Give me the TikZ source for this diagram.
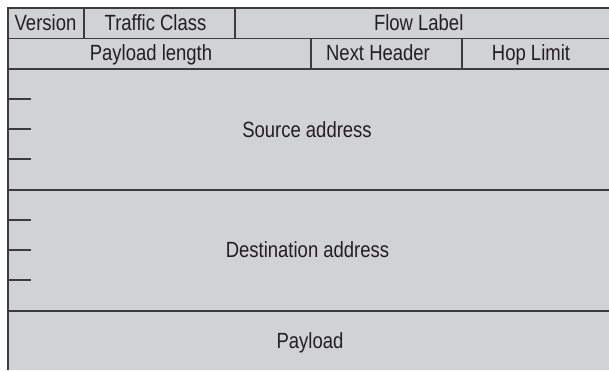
\documentclass[tikz,border=0pt]{standalone}
\usepackage{fontspec}
\setmainfont{Liberation Sans}[FakeStretch=0.84]
\definecolor{fieldfill}{HTML}{D1D2D4}
\definecolor{rule}{HTML}{3C3C3E}
\definecolor{ink}{HTML}{231F20}
\begin{document}
\begin{tikzpicture}[x=1pt,y=-1pt,
  rulestyle/.style={draw=rule,line width=1.4pt},
  tickstyle/.style={draw=rule,line width=1.3pt},
  fieldtext/.style={text=ink,font=\fontsize{22}{26}\selectfont,inner sep=0pt,anchor=base}]
\useasboundingbox (0,0) rectangle (609,370);
\fill[fieldfill] (8,8) rectangle (609,370);
% outer border
\draw[rulestyle] (609,8) -- (8,8) -- (8,370);
% horizontal dividers
\draw[rulestyle] (8,38.5) -- (609,38.5);
\draw[rulestyle] (8,69) -- (609,69);
\draw[rulestyle] (8,190) -- (609,190);
\draw[rulestyle] (8,311) -- (609,311);
% vertical dividers
\draw[rulestyle] (84,8) -- (84,38.5);
\draw[rulestyle] (235,8) -- (235,38.5);
\draw[rulestyle] (311,38.5) -- (311,69);
\draw[rulestyle] (462,38.5) -- (462,69);
% ticks
\foreach \ty in {99,129,159,220,250,280}
  \draw[tickstyle] (8,\ty) -- (31,\ty);
% labels
\node[fieldtext] (version) at (45.5,30.7) {Version};
\node[fieldtext] (tclass) at (155.5,30.7) {Traffic Class};
\node[fieldtext] (flow) at (418.7,30.7) {Flow Label};
\node[fieldtext] (plen) at (151,60.5) {Payload length};
\node[fieldtext] (nhdr) at (378,60.5) {Next Header};
\node[fieldtext] (hop) at (531,60.5) {Hop Limit};
\node[fieldtext] (src) at (307,137.7) {Source address};
\node[fieldtext] (dst) at (307.5,257.7) {Destination address};
\node[fieldtext] (payload) at (310,348.3) {Payload};
\end{tikzpicture}
\end{document}
